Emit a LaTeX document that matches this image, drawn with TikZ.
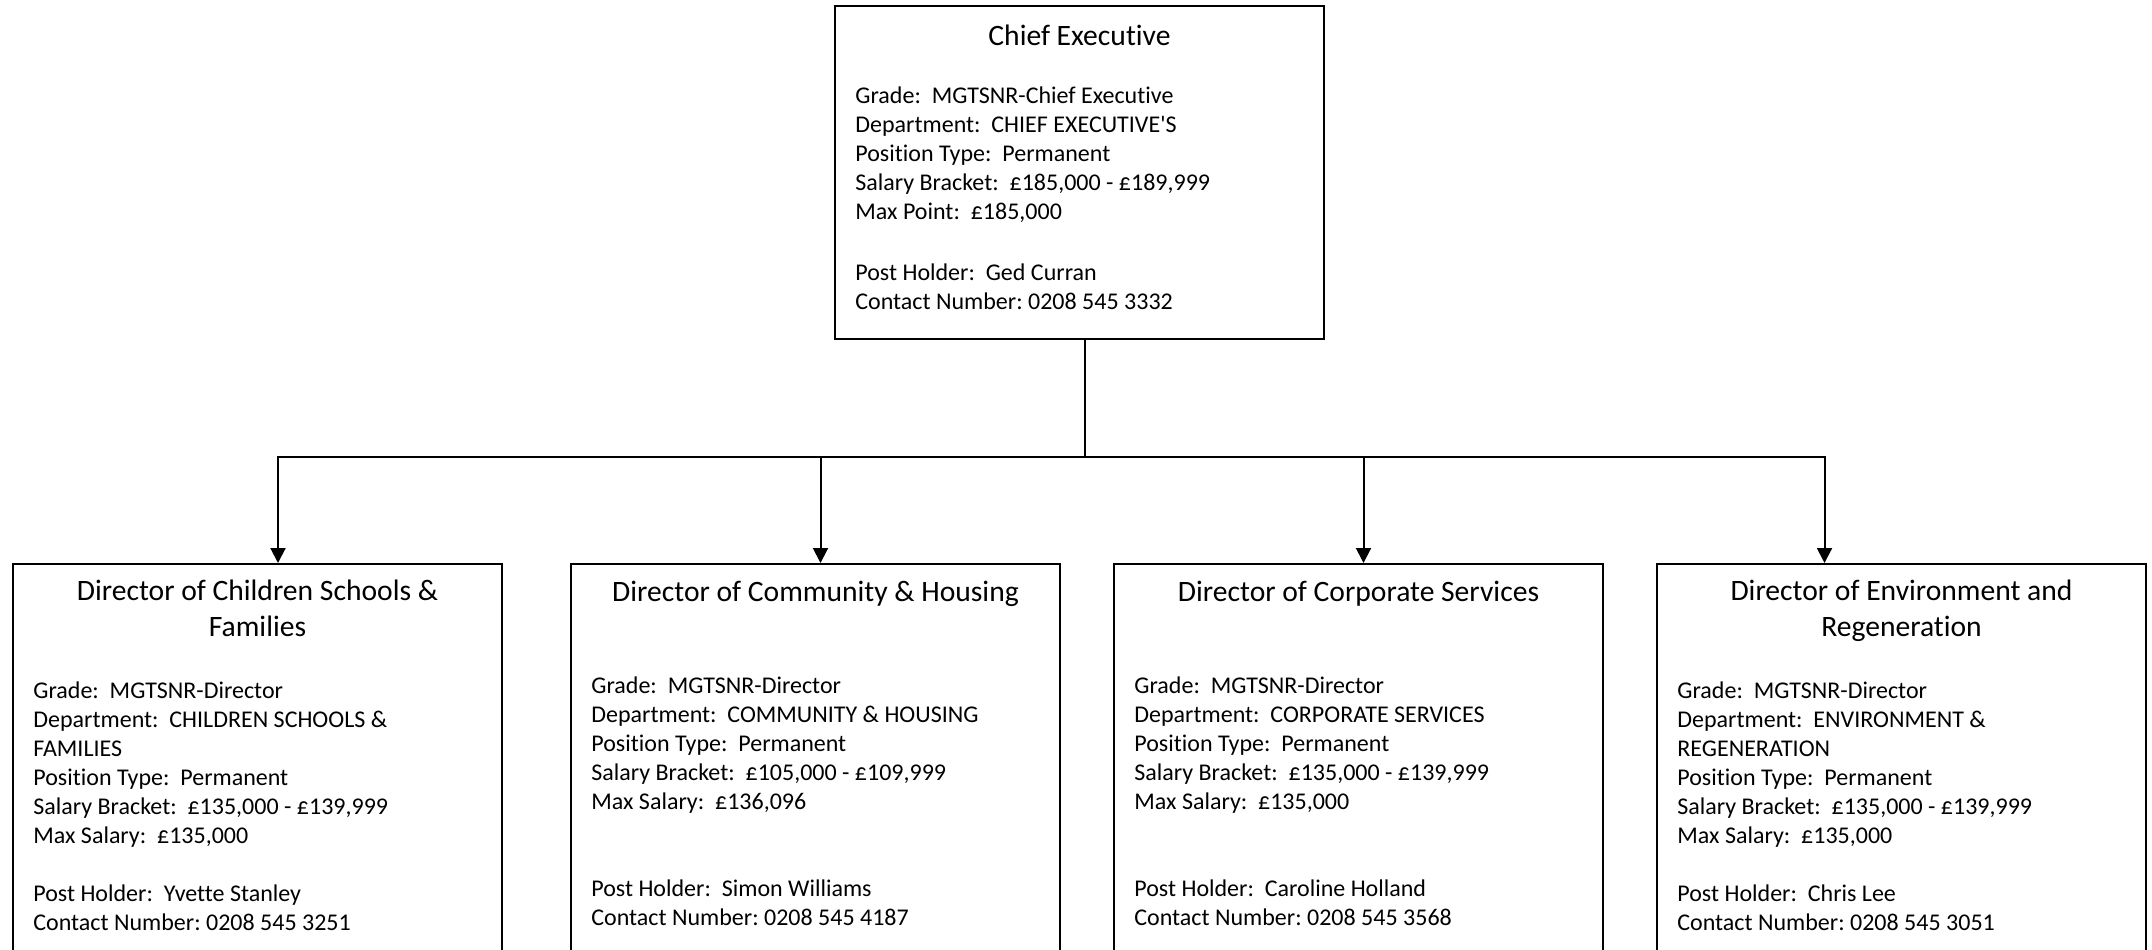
\documentclass[tikz,border=0pt]{standalone}
\usepackage{fontspec}
\setmainfont{Carlito}[Ligatures={TeX,CommonOff}]
\usetikzlibrary{arrows.meta,positioning}
\frenchspacing

\begin{document}
\begin{tikzpicture}[x=0.5pt,y=-0.5pt,
  post/.style={draw,line width=1pt,minimum width=244.5pt,minimum height=210pt,anchor=north west,inner sep=0pt},
  headline/.style={anchor=base,inner sep=0pt,align=center,font=\fontsize{14.8pt}{18pt}\selectfont},
  details/.style={anchor=base west,inner sep=0pt,align=left,font=\fontsize{12pt}{14.5pt}\selectfont},
  link/.style={line width=1pt},
  feed/.style={link,-{Triangle[width=7.5pt,length=7.5pt]}}]
\useasboundingbox (0,0) rectangle (2152,949);

% chief executive
\node[post,minimum height=166.5pt] (ceo) at (834,5) {};
\node[headline] (ceo-title) at ([yshift=-20pt]ceo.north) {Chief Executive};
\node[details] (ceo-info) at ([xshift=10.5pt,yshift=-152pt]ceo.north west)
  {Grade:~~MGTSNR-Chief Executive\\
   Department:~~CHIEF EXECUTIVE\textquotesingle S\\
   Position Type:~~Permanent\\
   Salary Bracket:~~£185,000 - £189,999\\
   Max Point:~~£185,000\\[16pt]
   Post Holder:~~Ged Curran\\
   Contact Number: 0208 545 3332};

% directors
\node[post] (dcsf) at (12,563) {};
\node[post] (dch) at (570,563) {};
\node[post] (dcs) at (1113,563) {};
\node[post] (der) at (1656,563) {};

\node[headline] (dcsf-title) at ([yshift=-36.85pt]dcsf.north) {Director of Children Schools \&\\Families};
\node[details] (dcsf-info) at ([xshift=10.5pt,yshift=-183.85pt]dcsf.north west)
  {Grade:~~MGTSNR-Director\\
   Department:~~CHILDREN SCHOOLS \&\\
   FAMILIES\\
   Position Type:~~Permanent\\
   Salary Bracket:~~£135,000 - £139,999\\
   Max Salary:~~£135,000\\[14.5pt]
   Post Holder:~~Yvette Stanley\\
   Contact Number: 0208 545 3251};

\node[headline] (dch-title) at ([yshift=-19pt]dch.north) {Director of Community \& Housing};
\node[details] (dch-info) at ([xshift=10.5pt,yshift=-181pt]dch.north west)
  {Grade:~~MGTSNR-Director\\
   Department:~~COMMUNITY \& HOUSING\\
   Position Type:~~Permanent\\
   Salary Bracket:~~£105,000 - £109,999\\
   Max Salary:~~£136,096\\[29pt]
   Post Holder:~~Simon Williams\\
   Contact Number: 0208 545 4187};

\node[headline] (dcs-title) at ([yshift=-19pt]dcs.north) {Director of Corporate Services};
\node[details] (dcs-info) at ([xshift=10.5pt,yshift=-181pt]dcs.north west)
  {Grade:~~MGTSNR-Director\\
   Department:~~CORPORATE SERVICES\\
   Position Type:~~Permanent\\
   Salary Bracket:~~£135,000 - £139,999\\
   Max Salary:~~£135,000\\[29pt]
   Post Holder:~~Caroline Holland\\
   Contact Number: 0208 545 3568};

\node[headline] (der-title) at ([yshift=-36.85pt]der.north) {Director of Environment and\\Regeneration};
\node[details] (der-info) at ([xshift=10.5pt,yshift=-183.85pt]der.north west)
  {Grade:~~MGTSNR-Director\\
   Department:~~ENVIRONMENT \&\\
   REGENERATION\\
   Position Type:~~Permanent\\
   Salary Bracket:~~£135,000 - £139,999\\
   Max Salary:~~£135,000\\[14.5pt]
   Post Holder:~~Chris Lee\\
   Contact Number: 0208 545 3051};

% connectors
\draw[link] ([xshift=2.5pt]ceo.south) -- ++(0,117) coordinate (hub);
\draw[feed] (hub) -| ([xshift=10.25pt]dcsf.north);
\draw[feed] (hub) -| ([xshift=2.5pt]dch.north);
\draw[feed] (hub) -| ([xshift=2.5pt]dcs.north);
\draw[feed] (hub) -| ([xshift=-38.5pt]der.north);
\end{tikzpicture}
\end{document}
